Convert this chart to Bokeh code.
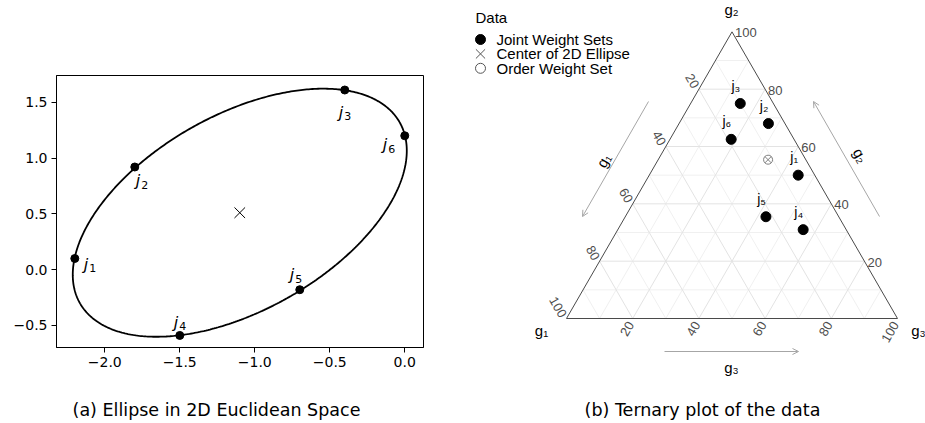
import numpy as np
from bokeh.plotting import figure
from bokeh.models import Range1d, FixedTicker, Arrow, OpenHead
from bokeh.embed import file_html
from bokeh.resources import INLINE
from bokeh.core.properties import value

# ---------------- Panel (a) data ----------------
pt_ids = ["1", "2", "3", "4", "5", "6"]
ell_x = [-2.2, -1.8, -0.4, -1.5, -0.7, 0.0]
ell_y = [0.10, 0.92, 1.61, -0.59, -0.18, 1.20]
center_x = [-1.1]
center_y = [0.51]
xticks = [-2.0, -1.5, -1.0, -0.5, 0.0]
xtick_labels = ["\u22122.0", "\u22121.5", "\u22121.0", "\u22120.5", "0.0"]
yticks = [-0.5, 0.0, 0.5, 1.0, 1.5]
ytick_labels = ["\u22120.5", "0.0", "0.5", "1.0", "1.5"]

# ---------------- Panel (b) data (percent) ----------------
g1 = [5, 5, 10, 13, 22, 19]
g2 = [50, 68, 75, 31, 35.5, 62.5]
g3 = [45, 27, 15, 56, 42.5, 18.5]
order_g = [11.4, 55.4, 33.2]
tern_ticks = [20, 40, 60, 80, 100]
grid_levels = [10, 20, 30, 40, 50, 60, 70, 80, 90]
legend_items = ["Joint Weight Sets", "Center of 2D Ellipse", "Order Weight Set"]
captions = ["(a) Ellipse in 2D Euclidean Space", "(b) Ternary plot of the data"]

# ================= Panel (a) =================
W1, H1 = 440, 420
p1 = figure(width=W1, height=H1, x_range=Range1d(-2.322, 0.125), y_range=Range1d(-0.698, 1.74),
            output_backend="svg", toolbar_location=None,
            min_border_left=56, min_border_right=17, min_border_top=75, min_border_bottom=73)
p1.styles = {"position": "absolute", "left": "0px", "top": "0px"}
p1.grid.visible = False
p1.outline_line_color = "black"
p1.outline_line_width = 1
p1.outline_line_alpha = 1
p1.xaxis.ticker = FixedTicker(ticks=xticks)
p1.yaxis.ticker = FixedTicker(ticks=yticks)
p1.xaxis.major_label_overrides = {t: l for t, l in zip(xticks, xtick_labels)}
p1.yaxis.major_label_overrides = {t: l for t, l in zip(yticks, ytick_labels)}
for ax in p1.axis:
    ax.axis_line_color = "black"
    ax.major_tick_line_color = "black"
    ax.major_tick_out = 5
    ax.major_tick_in = 0
    ax.minor_tick_line_color = None
    ax.major_label_text_font = "DejaVu Sans"
    ax.major_label_text_font_size = "14px"
    ax.major_label_text_color = "black"
    ax.major_label_standoff = 4

# ellipse fitted through the joint points about the given centre
dx = np.array(ell_x) - center_x[0]
dy = np.array(ell_y) - center_y[0]
Amat = np.column_stack([dx ** 2, dx * dy, dy ** 2])
coef, *_ = np.linalg.lstsq(Amat, np.ones(len(dx)), rcond=None)
A, B, C = coef
M = np.array([[A, B / 2], [B / 2, C]])
w, V = np.linalg.eigh(M)
t = np.linspace(0, 2 * np.pi, 500)
pts = V @ np.vstack([np.cos(t) / np.sqrt(w[0]), np.sin(t) / np.sqrt(w[1])])
p1.line(pts[0] + center_x[0], pts[1] + center_y[0], line_color="black", line_width=1.8)

p1.scatter(ell_x, ell_y, size=8, color="black")
p1.scatter(center_x, center_y, marker="x", size=15, line_color="black", line_width=1)

lab_dx = [9, 1, -6, -6, -10, -22]
lab_dy = [6, 14, 22, -13, -15, 9]
p1.text(ell_x, ell_y, text=["j"] * 6, x_offset=lab_dx, y_offset=lab_dy,
        text_font=value("DejaVu Sans"), text_font_style="italic", text_font_size="16px",
        text_baseline="alphabetic", text_align="left", text_color="black")
p1.text(ell_x, ell_y, text=pt_ids, x_offset=[d + 5.5 for d in lab_dx], y_offset=[d + 4 for d in lab_dy],
        text_font=value("DejaVu Sans"), text_font_size="11px",
        text_baseline="alphabetic", text_align="left", text_color="black")

# ================= Panel (b): transparent overlay over the whole page =================
S = 3.31           # pixels per ternary unit
OX, OY = 566, 318  # page-pixel position of the g1 vertex
W2, H2 = 925, 420
p2 = figure(width=W2, height=H2, x_range=Range1d(-OX / S, (W2 - OX) / S),
            y_range=Range1d(-(H2 - OY) / S, OY / S), output_backend="svg", toolbar_location=None,
            x_axis_location=None, y_axis_location=None,
            min_border_left=0, min_border_right=0, min_border_top=0, min_border_bottom=0)
p2.styles = {"position": "absolute", "left": "0px", "top": "0px"}
p2.grid.visible = False
p2.outline_line_color = None
p2.background_fill_color = None
p2.border_fill_color = None

R3 = np.sqrt(3) / 2


def tern(a, b, c):
    a, b, c = np.asarray(a, float), np.asarray(b, float), np.asarray(c, float)
    s = a + b + c
    return (c + b / 2) / s * 100, b / s * 100 * R3


def pg(x, y):
    """page pixel -> overlay data coordinates"""
    return (x - OX) / S, (OY - y) / S


# grid
gx_major, gy_major, gx_minor, gy_minor = [], [], [], []
for k in grid_levels:
    segs = [((k, 100 - k, 0), (k, 0, 100 - k)),
            ((100 - k, k, 0), (0, k, 100 - k)),
            ((100 - k, 0, k), (0, 100 - k, k))]
    for s0, s1 in segs:
        xa, ya = tern(*s0)
        xb, yb = tern(*s1)
        if k % 20 == 0:
            gx_major.append([float(xa), float(xb)]); gy_major.append([float(ya), float(yb)])
        else:
            gx_minor.append([float(xa), float(xb)]); gy_minor.append([float(ya), float(yb)])
p2.multi_line(gx_minor, gy_minor, line_color="#f0f0f0", line_width=1)
p2.multi_line(gx_major, gy_major, line_color="#e3e3e3", line_width=1)

# triangle border
vx, vy = tern([100, 0, 0, 100], [0, 100, 0, 0], [0, 0, 100, 0])
p2.line(vx, vy, line_color="#4a4a4a", line_width=1)

tick_font = value("Liberation Sans")
tk = np.array(tern_ticks, float)
tick_txt = [str(v) for v in tern_ticks]
# g1 axis (left edge)
lx, ly = tern(tk, 100 - tk, 0 * tk)
p2.text(lx, ly, text=tick_txt, angle=-np.pi / 3, text_align="right",
        text_baseline="middle", x_offset=-3, y_offset=-2, text_font=tick_font,
        text_font_size="13px", text_color="#4d4d4d")
# g2 axis (right edge)
rx, ry = tern(0 * tk, tk, 100 - tk)
p2.text(rx, ry, text=tick_txt, text_align="left", text_baseline="middle",
        x_offset=3, y_offset=1, text_font=tick_font, text_font_size="13px", text_color="#4d4d4d")
# g3 axis (bottom edge)
bx, by = tern(100 - tk, 0 * tk, tk)
p2.text(bx, by, text=tick_txt, angle=np.pi / 3, text_align="right",
        text_baseline="middle", x_offset=-2, y_offset=4, text_font=tick_font,
        text_font_size="13px", text_color="#4d4d4d")

# vertex titles
for (fx, fy), txt in [((541, 330), "g\u2081"), ((731, 9), "g\u2082"), ((918, 330), "g\u2083")]:
    x, y = pg(fx, fy)
    p2.text([x], [y], text=[txt], text_align="center", text_baseline="middle",
            text_font=tick_font, text_font_size="15px", text_color="black")

# arrows and arrow titles
arrow_col = "#a6a6a6"
for (fx0, fy0), (fx1, fy1) in [((648, 101), (582, 216)), ((879, 216), (813, 101)), ((664, 351), (798, 351))]:
    x0, y0 = pg(fx0, fy0)
    x1, y1 = pg(fx1, fy1)
    p2.add_layout(Arrow(x_start=x0, y_start=y0, x_end=x1, y_end=y1, line_color=arrow_col,
                        line_width=1, end=OpenHead(size=6, line_color=arrow_col, line_width=1)))
for (fx, fy), txt, ang in [((603, 160), "g\u2081", np.pi / 3), ((860, 155), "g\u2082", -np.pi / 3),
                           ((731, 367), "g\u2083", 0.0)]:
    x, y = pg(fx, fy)
    p2.text([x], [y], text=[txt], angle=ang, text_align="center", text_baseline="middle",
            text_font=tick_font, text_font_size="15px", text_color="black")

# points
px_j, py_j = tern(g1, g2, g3)
p2.scatter(px_j, py_j, size=10, color="black")
ox, oy = tern(*[[v] for v in order_g])
p2.scatter(ox, oy, marker="circle_x", size=9, fill_color=None, line_color="#808080", line_width=1)
sub = "\u2080\u2081\u2082\u2083\u2084\u2085\u2086"
p2.text(px_j, py_j, text=["j" + sub[int(i)] for i in pt_ids],
        text_align="right", text_baseline="alphabetic", y_offset=-18,
        text_font=tick_font, text_font_size="14px", text_color="black")

# legend
lgx, lgy = pg(475, 17)
p2.text([lgx], [lgy], text=["Data"], text_align="left", text_baseline="middle",
        text_font=tick_font, text_font_size="15px", text_color="black")
legend_markers = ["circle", "x", "circle"]
legend_sizes = [10, 13, 10]
for i, (lab, mk, sz) in enumerate(zip(legend_items, legend_markers, legend_sizes)):
    sx, sy = pg(480, 39 + 14.4 * i)
    if i == 0:
        p2.scatter([sx], [sy], marker=mk, size=sz, color="black")
    else:
        p2.scatter([sx], [sy], marker=mk, size=sz, fill_color=None, line_color="#555555", line_width=1)
    tx, ty = pg(496, 39 + 14.4 * i)
    p2.text([tx], [ty], text=[lab], text_align="left", text_baseline="middle",
            text_font=tick_font, text_font_size="15px", text_color="black")

# captions
for (fx, fy), txt in zip([(216, 409), (702, 409)], captions):
    x, y = pg(fx, fy)
    p2.text([x], [y], text=[txt], text_align="center", text_baseline="middle",
            text_font=value("DejaVu Sans"), text_font_size="17.5px", text_color="black")

open("out.html", "w").write(file_html([p1, p2], INLINE))
